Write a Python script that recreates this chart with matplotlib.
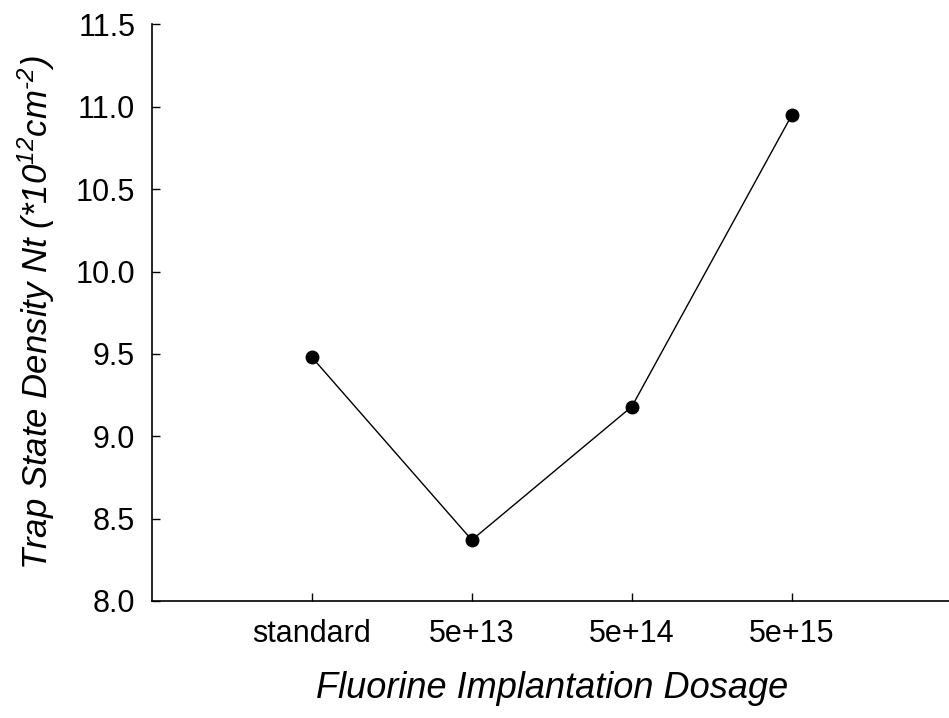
import matplotlib
matplotlib.use('Agg')
import matplotlib.pyplot as plt

# datos
dosis = ['standard', '5e+13', '5e+14', '5e+15']
densidad = [9.48, 8.37, 9.18, 10.95]

plt.rcParams['font.family'] = ['Liberation Sans', 'DejaVu Sans']
plt.rcParams['mathtext.fontset'] = 'custom'
plt.rcParams['mathtext.rm'] = 'Liberation Sans:italic'
plt.rcParams['mathtext.it'] = 'Liberation Sans:italic'

fig = plt.figure(figsize=(9.49, 7.18), dpi=100)
ax = fig.add_axes([0.160, 0.163, 0.843, 0.803])

posiciones = list(range(1, len(dosis) + 1))
ax.plot(posiciones, densidad, '-o', color='black', linewidth=1.0,
        markersize=9, clip_on=False)

ax.set_xlim(0, 5)
ax.set_ylim(8.0, 11.5)
ax.set_xticks(posiciones)
ax.set_xticklabels(dosis)
ax.set_yticks([8.0, 8.5, 9.0, 9.5, 10.0, 10.5, 11.0, 11.5])
ax.set_yticklabels(['8.0', '8.5', '9.0', '9.5', '10.0', '10.5', '11.0', '11.5'])

ax.spines['top'].set_visible(False)
ax.spines['right'].set_visible(False)
ax.spines['left'].set_linewidth(1.2)
ax.spines['bottom'].set_linewidth(1.2)
ax.tick_params(axis='both', direction='in', length=6, width=1.0,
               labelsize=22, color='black')
ax.tick_params(axis='y', pad=12)
ax.tick_params(axis='x', pad=13)

ax.set_xlabel('Fluorine Implantation Dosage', fontsize=26, style='italic',
              labelpad=16)
ax.set_ylabel(r'Trap State Density Nt (*10$^{12}$cm$^{\text{-2}}$)', fontsize=25,
              style='italic', labelpad=13)

fig.savefig('out.png', dpi=100)
plt.close(fig)
